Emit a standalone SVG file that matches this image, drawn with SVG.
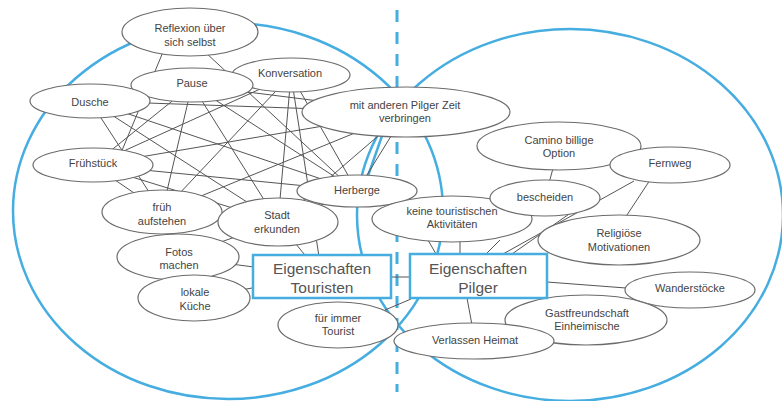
<svg xmlns="http://www.w3.org/2000/svg" width="782" height="401" viewBox="0 0 782 401">
<style>
.big{fill:none;stroke:#45ade0;stroke-width:2.5}
.dash{stroke:#45ade0;stroke-width:3;stroke-dasharray:12 10}
.c line{stroke:#555;stroke-width:1}
.n ellipse{fill:#fff;stroke:#6b6b6b;stroke-width:1.2}
.b rect{fill:#fff;stroke:#45ade0;stroke-width:2.5}
text{font-family:"Liberation Sans",Arial,sans-serif;font-size:11px;fill:#444;text-anchor:middle}
.b text{font-size:15.5px;fill:#555}
</style>
<rect width="782" height="401" fill="#fff"/>
<g id="regions">
<ellipse class="big" cx="228" cy="211" rx="215" ry="188"/>
<ellipse class="big" cx="570" cy="215" rx="213" ry="186"/>
<path class="big" d="M383,133 L368,176"/>
<line class="dash" x1="397" y1="10" x2="397" y2="392"/>
</g>
<g id="connectors" class="c">
<line x1="163" y1="52" x2="118" y2="160"/>
<line x1="205" y1="52" x2="345" y2="182"/>
<line x1="192" y1="85" x2="93" y2="165"/>
<line x1="192" y1="85" x2="162" y2="212"/>
<line x1="192" y1="85" x2="278" y2="222"/>
<line x1="192" y1="85" x2="357" y2="191"/>
<line x1="192" y1="85" x2="406" y2="112"/>
<line x1="291" y1="75" x2="90" y2="101"/>
<line x1="291" y1="75" x2="93" y2="165"/>
<line x1="291" y1="75" x2="162" y2="212"/>
<line x1="291" y1="75" x2="278" y2="222"/>
<line x1="291" y1="75" x2="357" y2="191"/>
<line x1="291" y1="75" x2="322" y2="276"/>
<line x1="90" y1="101" x2="406" y2="112"/>
<line x1="90" y1="101" x2="357" y2="191"/>
<line x1="90" y1="101" x2="278" y2="222"/>
<line x1="90" y1="101" x2="162" y2="212"/>
<line x1="93" y1="165" x2="406" y2="112"/>
<line x1="93" y1="165" x2="357" y2="191"/>
<line x1="93" y1="165" x2="278" y2="222"/>
<line x1="93" y1="165" x2="162" y2="212"/>
<line x1="406" y1="112" x2="162" y2="212"/>
<line x1="406" y1="112" x2="278" y2="222"/>
<line x1="406" y1="112" x2="357" y2="191"/>
<line x1="357" y1="191" x2="278" y2="222"/>
<line x1="162" y1="212" x2="278" y2="222"/>
<line x1="278" y1="222" x2="178" y2="257"/>
<line x1="278" y1="222" x2="322" y2="276"/>
<line x1="178" y1="257" x2="322" y2="276"/>
<line x1="194" y1="298" x2="322" y2="276"/>
<line x1="559" y1="146" x2="545" y2="198"/>
<line x1="634" y1="181" x2="503" y2="254"/>
<line x1="650" y1="180" x2="625" y2="218"/>
<line x1="572" y1="212" x2="512" y2="254"/>
<line x1="500" y1="240" x2="486" y2="254"/>
<line x1="460" y1="240" x2="460" y2="254"/>
<line x1="405" y1="200" x2="436" y2="254"/>
<line x1="547" y1="282" x2="626" y2="288"/>
<line x1="467" y1="298" x2="472" y2="325"/>
<line x1="391" y1="277" x2="410" y2="277"/>
<line x1="385" y1="310" x2="411" y2="299"/>
</g>
<g id="n-reflexion" class="n"><ellipse cx="190" cy="32" rx="68" ry="24"/><text x="190" y="32">Reflexion über</text><text x="190" y="46">sich selbst</text></g>
<g id="n-konversation" class="n"><ellipse cx="291" cy="75" rx="59" ry="17"/><text x="290" y="77">Konversation</text></g>
<g id="n-pause" class="n"><ellipse cx="192" cy="85" rx="61" ry="17"/><text x="192" y="87">Pause</text></g>
<g id="n-dusche" class="n"><ellipse cx="90" cy="101" rx="60" ry="17"/><text x="90" y="106">Dusche</text></g>
<g id="n-mitanderen" class="n"><ellipse cx="406" cy="112" rx="104" ry="25"/><text x="405" y="109">mit anderen Pilger Zeit</text><text x="405" y="122">verbringen</text></g>
<g id="n-fruehstueck" class="n"><ellipse cx="93" cy="165" rx="60" ry="17"/><text x="93" y="167">Frühstück</text></g>
<g id="n-herberge" class="n"><ellipse cx="357" cy="191" rx="60" ry="16"/><text x="357" y="194">Herberge</text></g>
<g id="n-frueh" class="n"><ellipse cx="162" cy="212" rx="60" ry="22"/><text x="162" y="211">früh</text><text x="162" y="225">aufstehen</text></g>
<g id="n-stadt" class="n"><ellipse cx="278" cy="222" rx="60" ry="24"/><text x="277" y="219">Stadt</text><text x="277" y="233">erkunden</text></g>
<g id="n-fotos" class="n"><ellipse cx="178" cy="257" rx="61" ry="23"/><text x="179" y="256">Fotos</text><text x="179" y="269">machen</text></g>
<g id="n-kueche" class="n"><ellipse cx="194" cy="298" rx="56" ry="23"/><text x="195" y="296">lokale</text><text x="195" y="310">Küche</text></g>
<g id="n-fuerimmer" class="n"><ellipse cx="338" cy="325" rx="60" ry="23"/><text x="338" y="322">für immer</text><text x="338" y="335">Tourist</text></g>
<g id="n-keine" class="n"><ellipse cx="452" cy="219" rx="80" ry="23"/></g>
<g id="n-bescheiden" class="n"><ellipse cx="545" cy="198" rx="55" ry="18"/><text x="545" y="201">bescheiden</text></g>
<g id="n-keine-label"><text x="452" y="215">keine touristischen</text><text x="452" y="228">Aktivitäten</text></g>
<g id="n-camino" class="n"><ellipse cx="559" cy="146" rx="82" ry="24"/><text x="559" y="144">Camino billige</text><text x="559" y="157">Option</text></g>
<g id="n-fernweg" class="n"><ellipse cx="670" cy="165" rx="60" ry="18"/><text x="670" y="167">Fernweg</text></g>
<g id="n-religioese" class="n"><ellipse cx="619" cy="240" rx="81" ry="25"/><text x="619" y="237">Religiöse</text><text x="619" y="251">Motivationen</text></g>
<g id="n-wander" class="n"><ellipse cx="690" cy="290" rx="65" ry="18"/><text x="690" y="292">Wanderstöcke</text></g>
<g id="n-gast" class="n"><ellipse cx="586" cy="320" rx="81" ry="25"/><text x="587" y="317">Gastfreundschaft</text><text x="587" y="330">Einheimische</text></g>
<g id="n-heimat" class="n"><ellipse cx="474" cy="341" rx="80" ry="18"/><text x="475" y="344">Verlassen Heimat</text></g>
<g id="box-touristen" class="b"><rect x="253" y="255" width="138" height="43"/><text x="322" y="273.5">Eigenschaften</text><text x="322" y="292.5">Touristen</text></g>
<g id="box-pilger" class="b"><rect x="410" y="254" width="137" height="44"/><text x="478" y="273.5">Eigenschaften</text><text x="478" y="292.5">Pilger</text></g>
</svg>
